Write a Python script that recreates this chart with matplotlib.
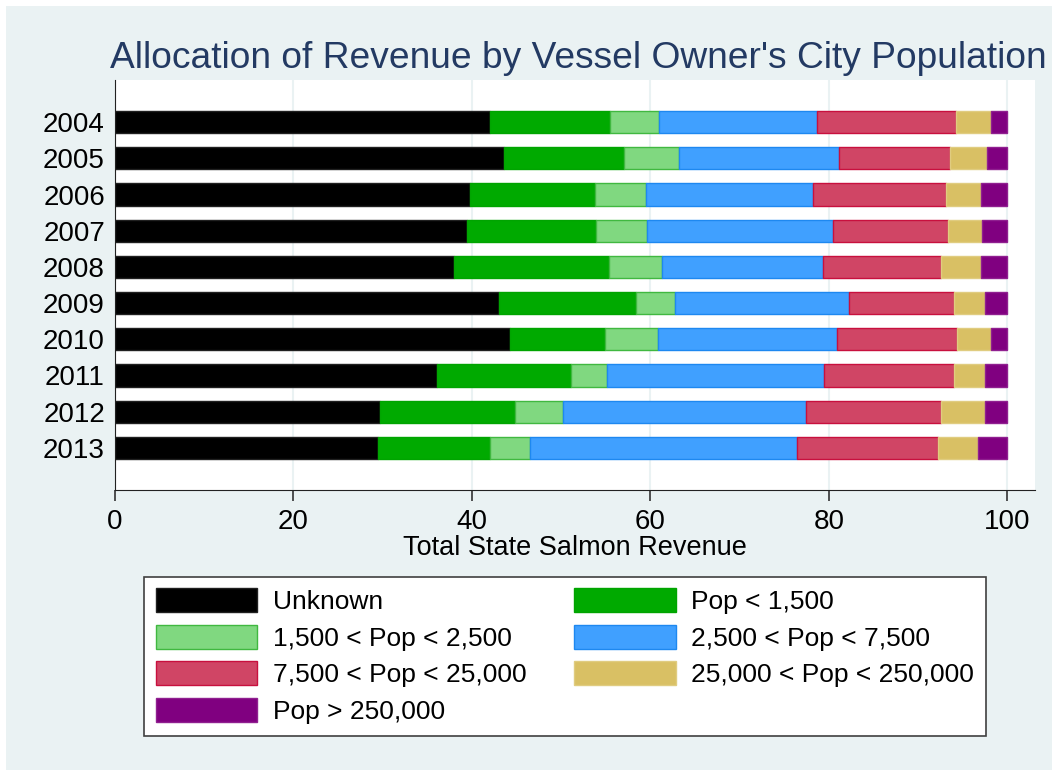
import matplotlib
matplotlib.use('Agg')
import numpy as np
import matplotlib.pyplot as plt
from matplotlib.patches import Rectangle

# data: share of total state salmon revenue (%) by owner's city population
years = ['2004', '2005', '2006', '2007', '2008', '2009', '2010', '2011', '2012', '2013']
labels = ['Unknown', 'Pop < 1,500', '1,500 < Pop < 2,500', '2,500 < Pop < 7,500',
          '7,500 < Pop < 25,000', '25,000 < Pop < 250,000', 'Pop > 250,000']
unknown = [42.1, 43.6, 39.8, 39.5, 38.0, 43.0, 44.3, 36.1, 29.7, 29.5]
pop_lt_1500 = [13.4, 13.5, 14.0, 14.4, 17.4, 15.4, 10.6, 15.0, 15.2, 12.5]
pop_1500_2500 = [5.5, 6.1, 5.7, 5.7, 5.9, 4.4, 6.0, 4.1, 5.3, 4.5]
pop_2500_7500 = [17.7, 17.9, 18.7, 20.9, 18.1, 19.5, 20.0, 24.3, 27.3, 29.9]
pop_7500_25000 = [15.5, 12.5, 14.9, 12.8, 13.2, 11.7, 13.5, 14.5, 15.1, 15.8]
pop_25000_250000 = [4.0, 4.1, 4.0, 3.9, 4.4, 3.5, 3.8, 3.5, 4.9, 4.5]
pop_gt_250000 = [1.8, 2.3, 2.9, 2.8, 3.0, 2.5, 1.8, 2.5, 2.5, 3.3]

series = [unknown, pop_lt_1500, pop_1500_2500, pop_2500_7500,
          pop_7500_25000, pop_25000_250000, pop_gt_250000]
colors = ['#000000', '#00AA00', '#80D880', '#40A0FF', '#D04565', '#D9C064', '#800080']
edges = ['#202020', '#00A400', '#40B840', '#1E88F0', '#C8103E', '#E0CC80', '#902090']

bg = '#EAF2F3'
plt.rcParams['font.family'] = ['Liberation Sans', 'DejaVu Sans']

fig = plt.figure(figsize=(10.52, 7.70), dpi=100)
fig.patch.set_facecolor('white')
fig.patches.append(Rectangle((6 / 1052, 0), 1, 1 - 6 / 770, transform=fig.transFigure,
                             facecolor=bg, edgecolor='none', zorder=-10))

ax = fig.add_axes([114.7 / 1052, 1 - 490 / 770, (1035 - 114.7) / 1052, (490 - 80) / 770])
ax.set_facecolor('white')

ypos = np.arange(len(years))
left = np.zeros(len(years))
for vals, lab, c, ec in zip(series, labels, colors, edges):
    ax.barh(ypos, vals, left=left, height=0.61, color=c, edgecolor=ec,
            linewidth=1, label=lab, zorder=3)
    left += np.array(vals)

ax.set_ylim(9 + 1.165, -1.165)
ax.set_xlim(0, 103.1)
ax.set_yticks(ypos)
ax.set_yticklabels(years)
ax.set_xticks([0, 20, 40, 60, 80, 100])
ax.tick_params(axis='y', length=0, pad=7, labelsize=20)
ax.tick_params(axis='x', length=8, width=1.2, pad=6, labelsize=20, color='#333333')
ax.grid(axis='x', color=bg, linewidth=1.5, zorder=0)
for s in ['top', 'right']:
    ax.spines[s].set_visible(False)
ax.spines['left'].set_color('#222222')
ax.spines['bottom'].set_color('#222222')
ax.set_xlabel('Total State Salmon Revenue', fontsize=19.5, labelpad=0)

fig.text(578.5 / 1052, 1 - 68 / 770,
         "Allocation of Revenue by Vessel Owner's City Population",
         ha='center', va='baseline', fontsize=26.7, color='#233A63')

# legend fills row by row in the reference
handles, labs = ax.get_legend_handles_labels()
order = [0, 2, 4, 6, 1, 3, 5]
leg = fig.legend([handles[i] for i in order], [labs[i] for i in order],
                 loc='upper left', bbox_to_anchor=(144.3 / 1052, 1 - 576.7 / 770),
                 ncol=2, fontsize=19, handlelength=3.83, handleheight=1.02,
                 handletextpad=0.6, columnspacing=1.82, labelspacing=0.4,
                 borderpad=0.44, borderaxespad=0, fancybox=False, framealpha=1)
leg.get_frame().set_edgecolor('#404040')
leg.get_frame().set_linewidth(1.2)

fig.savefig('out.png', dpi=100, facecolor=fig.get_facecolor())
